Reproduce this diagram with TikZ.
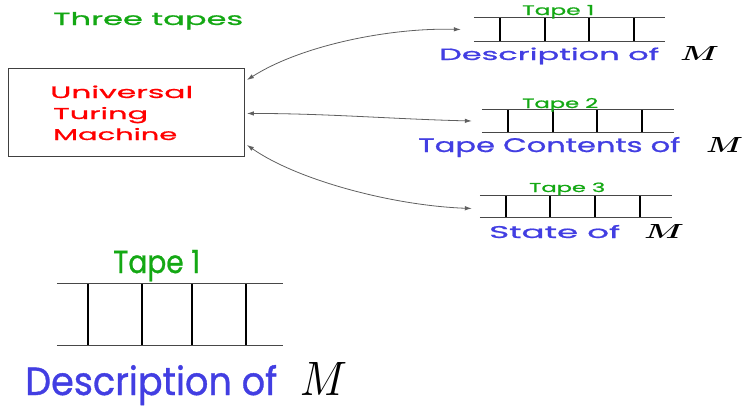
\documentclass[tikz,border=0pt]{standalone}
\usepackage{fontspec}
\setmainfont{Poppins}[FakeBold=0.9]
\usetikzlibrary{calc,arrows.meta,fit}
\definecolor{tgreen}{RGB}{20,168,20}
\definecolor{tred}{RGB}{255,0,0}
\definecolor{tblue}{RGB}{66,62,226}
\definecolor{lgray}{RGB}{95,95,95}
\newcommand\fitbox[3]{\resizebox{#1pt}{#2pt}{#3}}
\tikzset{
  lbl/.style={inner sep=0pt, anchor=base west},
  tapeline/.style={draw=black!72, line width=1.3pt},
  cellline/.style={draw=black, line width=1.2pt},
  link/.style={draw=lgray, line width=0.8pt, {Latex[length=7pt,width=4.5pt]}-{Latex[length=7pt,width=4.5pt]}},
  region/.style={inner sep=0pt, draw=none},
}
\begin{document}
\begin{tikzpicture}[x=1pt,y=-1pt]
\useasboundingbox (0,0) rectangle (744,408);
% title
\node[lbl, text=tgreen] (title) at (53,25) {\fitbox{190}{13}{Three tapes}};
% UTM box
\node[draw=black!75, line width=0.9pt, minimum width=236pt, minimum height=88pt, inner sep=0pt, anchor=north west] (box) at (8,68) {};
\node[lbl, text=tred] (u1) at (50,98) {\fitbox{143}{12.5}{Universal}};
\node[lbl, text=tred] (u2) at (53,119) {\fitbox{95}{12}{Turing}};
\node[lbl, text=tred] (u3) at (53,140) {\fitbox{124}{12}{Machine}};
% tape 1 small
\node[region, fit={(474,18)(665,41)}] (t1) {};
\draw[tapeline] (t1.north west) -- (t1.north east) (t1.south west) -- (t1.south east);
\foreach \x in {500,545,589,634} \draw[cellline] (\x,18) -- (\x,41);
\node[lbl, text=tgreen] (l1) at (522,15) {\fitbox{72}{10}{Tape 1}};
\node[lbl, text=tblue] (d1) at (439,60) {\fitbox{220}{12.5}{Description of}};
\node[lbl] (m1) at (680,60) {\resizebox{39pt}{14pt}{\boldmath$M$}};
% tape 2 small
\node[region, fit={(482,110)(674,132)}] (t2) {};
\draw[tapeline] (t2.north west) -- (t2.north east) (t2.south west) -- (t2.south east);
\foreach \x in {508,553,597,642} \draw[cellline] (\x,110) -- (\x,132);
\node[lbl, text=tgreen] (l2) at (522,108) {\fitbox{76}{10}{Tape 2}};
\node[lbl, text=tblue] (d2) at (418,152) {\fitbox{262}{15}{Tape Contents of}};
\node[lbl] (m2) at (706,152) {\resizebox{37pt}{15pt}{\boldmath$M$}};
% tape 3 small
\node[region, fit={(480,196)(672,217)}] (t3) {};
\draw[tapeline] (t3.north west) -- (t3.north east) (t3.south west) -- (t3.south east);
\foreach \x in {506,550,595,640} \draw[cellline] (\x,196) -- (\x,217);
\node[lbl, text=tgreen] (l3) at (529,192) {\fitbox{76}{9.5}{Tape 3}};
\node[lbl, text=tblue] (d3) at (489,238) {\fitbox{131}{13}{State of}};
\node[lbl] (m3) at (644,238) {\resizebox{40pt}{14pt}{\boldmath$M$}};
% big tape 1
\node[region, fit={(57,284)(283,345)}] (tb) {};
\draw[tapeline] (tb.north west) -- (tb.north east) (tb.south west) -- (tb.south east);
\foreach \x in {88,142,192,246} \draw[cellline] (\x,284) -- (\x,345);
\node[lbl, text=tgreen] (lb) at (113,273) {\fitbox{87}{23}{Tape 1}};
\node[lbl, text=tblue] (db) at (25,395) {\fitbox{252}{30}{Description of}};
\node[lbl] (mb) at (300,395) {\resizebox{47pt}{33pt}{$M$}};
% connectors
\coordinate (a1) at ($(box.north east)+(2,12)$);
\coordinate (b1) at ($(t1.west)+(-13,0)$);
\coordinate (a2) at ($(box.east)+(2,1)$);
\coordinate (b2) at ($(t2.west)+(-10,0)$);
\coordinate (a3) at ($(box.south east)+(2,-12)$);
\coordinate (b3) at ($(t3.west)+(-8,2)$);
\draw[link] (a1) .. controls +(55,-35) and +(-70,-2) .. (b1);
\draw[link] (a2) .. controls +(80,0) and +(-80,-2) .. (b2);
\draw[link] (a3) .. controls +(50,35) and +(-80,-3) .. (b3);
\end{tikzpicture}
\end{document}
